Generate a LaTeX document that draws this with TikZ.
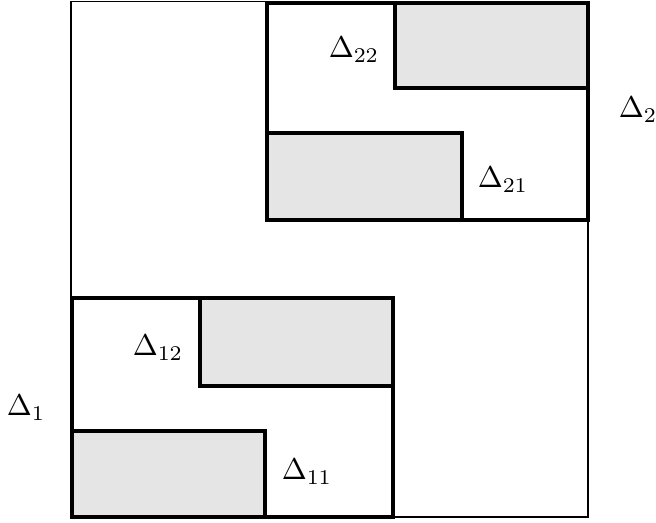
\documentclass[tikz,border=0pt]{standalone}
\begin{document}
\begin{tikzpicture}[x=0.3333pt,y=-0.3333pt,
  thinbox/.style={draw=black,line width=0.6pt},
  thickbox/.style={draw=black,line width=1.6pt},
  grayfill/.style={thickbox,fill=gray!20},
  lbl/.style={inner sep=0pt,font=\normalsize}]
\useasboundingbox (0,0) rectangle (656,523);
% outer square
\draw[thinbox] (71,1.5) rectangle (588,517);
% upper block
\draw[grayfill] (395,3) rectangle (588,88);
\draw[grayfill] (267,133) rectangle (462,220);
\draw[thickbox] (267,3) rectangle (588,220);
% lower block
\draw[grayfill] (200,298) rectangle (393,386);
\draw[grayfill] (72,431) rectangle (265,517);
\draw[thickbox] (72,298) rectangle (393,517);
% labels
\node[lbl] (d22) at (354,50) {$\Delta_{22}$};
\node[lbl] (d21) at (503,180) {$\Delta_{21}$};
\node[lbl] (d2) at (638,110) {$\Delta_{2}$};
\node[lbl] (d12) at (158,348) {$\Delta_{12}$};
\node[lbl] (d11) at (307,472) {$\Delta_{11}$};
\node[lbl] (d1) at (26,408) {$\Delta_{1}$};
\end{tikzpicture}
\end{document}
